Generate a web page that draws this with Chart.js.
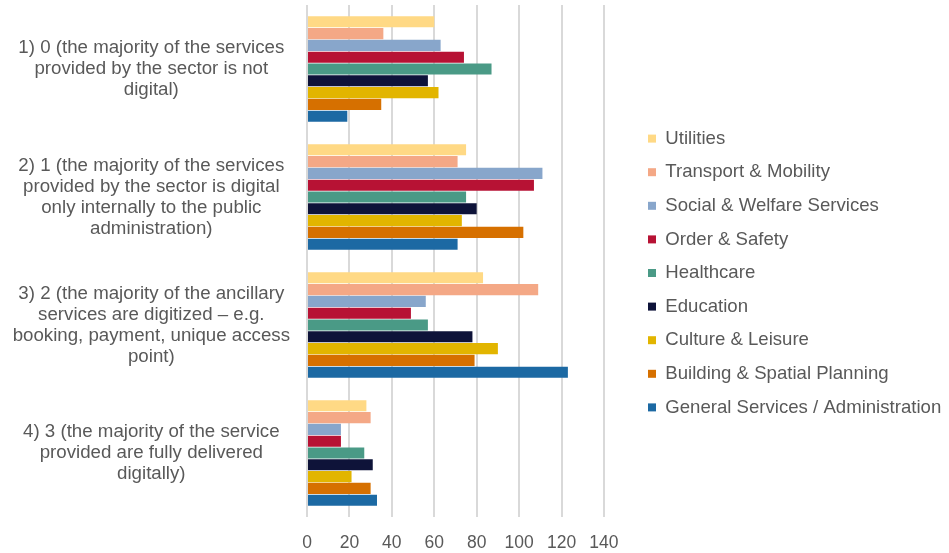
<!DOCTYPE html>
<html>
<head>
<meta charset="utf-8">
<script src="https://cdn.jsdelivr.net/npm/chart.js@4.4.0/dist/chart.umd.min.js"></script>
<style>
    html, body { margin: 0; padding: 0; background: #fff; }
</style>
</head>
<body>
<canvas id="barChart" width="949" height="553"></canvas>
<script>
// categories (multi-line labels as shown on the axis)
const categories = [
    ['1) 0 (the majority of the services', 'provided by the sector is not', 'digital)'],
    ['2) 1 (the majority of the services', 'provided by the sector is digital', 'only internally to the public', 'administration)'],
    ['3) 2 (the majority of the ancillary', 'services are digitized \u2013 e.g.', 'booking, payment, unique access', 'point)'],
    ['4) 3 (the majority of the service', 'provided are fully delivered', 'digitally)']
];

const seriesNames = [
    'Utilities', 'Transport & Mobility', 'Social & Welfare Services', 'Order & Safety',
    'Healthcare', 'Education', 'Culture & Leisure', 'Building & Spatial Planning',
    'General Services / Administration'
];

const utilities = [60, 75, 83, 28];
const transport = [36, 71, 109, 30];
const social = [63, 111, 56, 16];
const orderSafety = [74, 107, 49, 16];
const healthcare = [87, 75, 57, 27];
const education = [57, 80, 78, 31];
const culture = [62, 73, 90, 21];
const building = [35, 102, 79, 30];
const general = [19, 71, 123, 33];

const xTicks = [0, 20, 40, 60, 80, 100, 120, 140];

const seriesValues = [utilities, transport, social, orderSafety, healthcare, education, culture, building, general];
const seriesColors = ['#FFD985', '#F4A886', '#88A6CB', '#B71234', '#4A9A86', '#0E1339', '#E2B500', '#D67000', '#1C69A3'];

const ctx = document.getElementById('barChart').getContext('2d');
const barChart = new Chart(ctx, {
    type: 'bar',
    data: {
        labels: categories,
        datasets: seriesNames.map((name, i) => ({
            label: name,
            data: seriesValues[i],
            backgroundColor: seriesColors[i],
            borderWidth: 0,
            categoryPercentage: 0.83,
            barPercentage: 0.94,
        }))
    },
    options: {
        indexAxis: 'y',
        responsive: false,
        animation: false,
        devicePixelRatio: 1,
        layout: {
            padding: {left: 0, right: 0, top: 5, bottom: 0}
        },
        scales: {
            x: {
                min: 0,
                max: 153.7,   // empty room right of the 140 line, before the legend
                afterBuildTicks: (axis) => {
                    axis.ticks = xTicks.map(v => ({value: v}));
                },
                afterFit: (axis) => {
                    axis.height = 36;
                },
                grid: {color: '#d9d9d9', lineWidth: 2, drawTicks: false},
                border: {display: false},
                ticks: {
                    color: '#595959',
                    padding: 16,
                    minRotation: 0,
                    maxRotation: 0,
                    font: {family: 'Liberation Sans', size: 17.5}
                }
            },
            y: {
                afterFit: (axis) => {
                    axis.width = 307;
                    axis.paddingTop = 0;
                    axis.paddingBottom = 0;
                },
                grid: {display: false, drawTicks: false},
                border: {display: false},
                ticks: {
                    color: '#595959',
                    crossAlign: 'center',
                    padding: 17,
                    font: {family: 'Liberation Sans', size: 18.7, lineHeight: 1.12}
                }
            }
        },
        plugins: {
            legend: {
                position: 'right',
                fullSize: false,
                maxWidth: 316,
                // empty title only to push the items down a little
                title: {display: true, text: '', font: {size: 24, lineHeight: 1}},
                labels: {
                    boxWidth: 8,
                    boxHeight: 8,
                    padding: 15,
                    color: '#595959',
                    font: {family: 'Liberation Sans', size: 18.6}
                }
            },
            tooltip: {enabled: false}
        }
    }
});
</script>
</body>
</html>
